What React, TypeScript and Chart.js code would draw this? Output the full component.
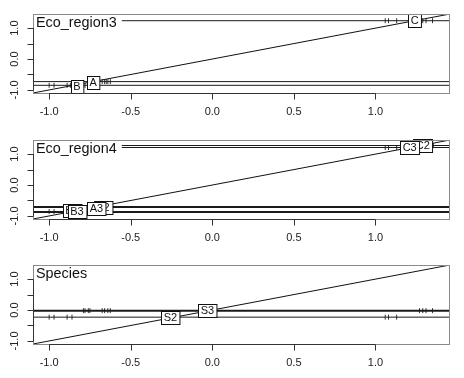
import React, { useEffect, useRef } from "react";
import { Chart, registerables } from "chart.js";

Chart.register(...registerables);

// ---- shared axis data ----
const AXIS_MIN = -1.099;
const AXIS_MAX = 1.457;
const xTickValues = [-1.0, -0.5, 0.0, 0.5, 1.0];
const xTickLabels = ["-1.0", "-0.5", "0.0", "0.5", "1.0"];
const yTickValues = [-1.0, -0.5, 0.0, 0.5, 1.0];
const yTickLabels = ["-1.0", "", "0.0", "", "1.0"];

// ---- panel 1: Eco_region3 ----
const p1Title = "Eco_region3";
const p1Groups = ["A", "B", "C"];
const p1Levels = [-0.73, -0.85, 1.24];
const p1LabelX = [-0.73, -0.83, 1.24];
const p1LabelY = [-0.76, -0.89, 1.24];
const p1Rug = [
  [-0.76, -0.75, -0.675, -0.66, -0.65, -0.64, -0.625],
  [-1.0, -0.97, -0.89, -0.87, -0.79, -0.78],
  [1.06, 1.08, 1.13, 1.27, 1.28, 1.29, 1.31, 1.35],
];

// ---- panel 2: Eco_region4 ----
const p2Title = "Eco_region4";
const p2Groups = ["A2", "B2", "C2", "A3", "B3", "C3"];
const p2Levels = [-0.695, -0.857, 1.279, -0.727, -0.889, 1.214];
const p2LabelX = [-0.67, -0.86, 1.29, -0.71, -0.83, 1.21];
const p2LabelY = [-0.72, -0.83, 1.28, -0.76, -0.87, 1.21];
const p2Rug = [
  [-0.675, -0.66, -0.645],
  [-1.0, -0.97],
  [1.31, 1.335, 1.355],
  [-0.76, -0.75],
  [-0.89, -0.87],
  [1.06, 1.08, 1.13, 1.27],
];

// ---- panel 3: Species ----
const p3Title = "Species";
const p3Groups = ["S2", "S3"];
const p3Levels = [-0.23, -0.02];
const p3LabelX = [-0.257, -0.03];
const p3LabelY = [-0.245, -0.01];
const p3Rug = [
  [-1.0, -0.97, -0.89, -0.86, 1.06, 1.08, 1.13],
  [-0.79, -0.78, -0.76, -0.75, -0.675, -0.66, -0.64, -0.625, 1.27, 1.29, 1.31, 1.35],
];
const p3LineWidths = [1, 2];

const FONT = '"Liberation Sans", Arial, Helvetica, sans-serif';

type PanelProps = {
  title: string;
  groups: string[];
  levels: number[];
  labelX: number[];
  labelY: number[];
  rug: number[][];
  lineWidths?: number[];
  height: number;
  top: number;
};

function Panel(props: PanelProps) {
  const ref = useRef<HTMLCanvasElement | null>(null);
  useEffect(() => {
    if (!ref.current) return;
    const { title, groups, levels, labelX, labelY, rug, lineWidths, height } = props;
    const datasets: any[] = [];
    datasets.push({
      type: "line",
      data: [
        { x: -3, y: -3 },
        { x: 3, y: 3 },
      ],
      borderColor: "#111",
      borderWidth: 1,
      pointRadius: 0,
      showLine: true,
    });
    levels.forEach((lv, i) => {
      datasets.push({
        type: "line",
        data: [
          { x: -3, y: lv },
          { x: 3, y: lv },
        ],
        borderColor: "#1a1a1a",
        borderWidth: lineWidths ? lineWidths[i] : 1,
        pointRadius: 0,
        showLine: true,
      });
    });
    rug.forEach((xs, i) => {
      datasets.push({
        type: "scatter",
        data: xs.map((x) => ({ x, y: levels[i] })),
        pointStyle: "line",
        rotation: 90,
        radius: 2.5,
        borderColor: "#333",
        borderWidth: 1,
        showLine: false,
      });
    });

    const panelPlugin = {
      id: "rpanel",
      afterDatasetsDraw(chart: any) {
        const ctx = chart.ctx as CanvasRenderingContext2D;
        const xs = chart.scales.x;
        const ys = chart.scales.y;
        const area = chart.chartArea;
        ctx.save();
        // group labels
        ctx.font = `11px ${FONT}`;
        ctx.textAlign = "center";
        ctx.textBaseline = "middle";
        groups.forEach((g, i) => {
          const px = xs.getPixelForValue(labelX[i]);
          const py = ys.getPixelForValue(labelY[i]);
          const w = ctx.measureText(g).width + 5;
          const h = 13;
          const bx = Math.round(px - w / 2) + 0.5;
          const by = Math.round(py - h / 2) + 0.5;
          ctx.fillStyle = "#fff";
          ctx.fillRect(bx, by, w, h);
          ctx.strokeStyle = "#111";
          ctx.lineWidth = 1;
          ctx.strokeRect(bx, by, w, h);
          ctx.fillStyle = "#111";
          ctx.fillText(g, px, py + 0.5);
        });
        // title
        ctx.font = `14.4px ${FONT}`;
        ctx.textAlign = "left";
        const tw = ctx.measureText(title).width;
        ctx.fillStyle = "#fff";
        ctx.fillRect(area.left + 1, area.top + 1, tw + 7, 15);
        ctx.fillStyle = "#111";
        ctx.fillText(title, area.left + 3, area.top + 9);
        // box
        ctx.strokeStyle = "#8a8a8a";
        ctx.lineWidth = 1;
        ctx.strokeRect(area.left + 0.5, area.top + 0.5, area.right - area.left - 1, area.bottom - area.top);
        // left axis
        ctx.strokeStyle = "#333";
        const ax = area.left + 0.5;
        const yTop = ys.getPixelForValue(yTickValues[yTickValues.length - 1]);
        const yBot = ys.getPixelForValue(yTickValues[0]);
        ctx.beginPath();
        ctx.moveTo(ax, yTop);
        ctx.lineTo(ax, yBot);
        yTickValues.forEach((v) => {
          const py = Math.round(ys.getPixelForValue(v)) + 0.5;
          ctx.moveTo(ax, py);
          ctx.lineTo(ax - 6, py);
        });
        ctx.stroke();
        ctx.fillStyle = "#222";
        ctx.font = `11px ${FONT}`;
        ctx.textAlign = "center";
        ctx.textBaseline = "middle";
        yTickValues.forEach((v, i) => {
          const lab = yTickLabels[i];
          if (!lab) return;
          const py = ys.getPixelForValue(v);
          ctx.save();
          ctx.translate(15, py);
          ctx.rotate(-Math.PI / 2);
          ctx.fillText(lab, 0, 0);
          ctx.restore();
        });
        // bottom axis
        const by0 = area.bottom + 0.5;
        ctx.beginPath();
        ctx.moveTo(xs.getPixelForValue(xTickValues[0]), by0);
        ctx.lineTo(xs.getPixelForValue(xTickValues[xTickValues.length - 1]), by0);
        xTickValues.forEach((v) => {
          const px = Math.round(xs.getPixelForValue(v)) + 0.5;
          ctx.moveTo(px, by0);
          ctx.lineTo(px, by0 + 6);
        });
        ctx.stroke();
        xTickValues.forEach((v, i) => {
          const px = xs.getPixelForValue(v);
          ctx.fillText(xTickLabels[i], px, area.bottom + 18.5);
        });
        ctx.restore();
      },
    };

    const chart = new Chart(ref.current, {
      type: "scatter",
      data: { datasets },
      options: {
        animation: false,
        responsive: false,
        events: [],
        layout: { padding: { left: 33, right: 14, top: 14, bottom: height - 93 } },
        plugins: { legend: { display: false }, tooltip: { enabled: false } },
        scales: {
          x: { type: "linear", min: AXIS_MIN, max: AXIS_MAX, display: false },
          y: { type: "linear", min: AXIS_MIN, max: AXIS_MAX, display: false },
        },
      },
      plugins: [panelPlugin],
    });
    return () => chart.destroy();
  }, []);
  return (
    <canvas
      ref={ref}
      width={464}
      height={props.height}
      style={{ position: "absolute", left: 0, top: props.top, width: 464, height: props.height }}
    />
  );
}

export default function App() {
  return (
    <div style={{ position: "fixed", left: 0, top: 0, width: 464, height: 378, background: "#fff" }}>
      <Panel title={p1Title} groups={p1Groups} levels={p1Levels} labelX={p1LabelX} labelY={p1LabelY} rug={p1Rug} height={126} top={0} />
      <Panel title={p2Title} groups={p2Groups} levels={p2Levels} labelX={p2LabelX} labelY={p2LabelY} rug={p2Rug} height={125} top={126} />
      <Panel title={p3Title} groups={p3Groups} levels={p3Levels} labelX={p3LabelX} labelY={p3LabelY} rug={p3Rug} lineWidths={p3LineWidths} height={127} top={251} />
    </div>
  );
}
